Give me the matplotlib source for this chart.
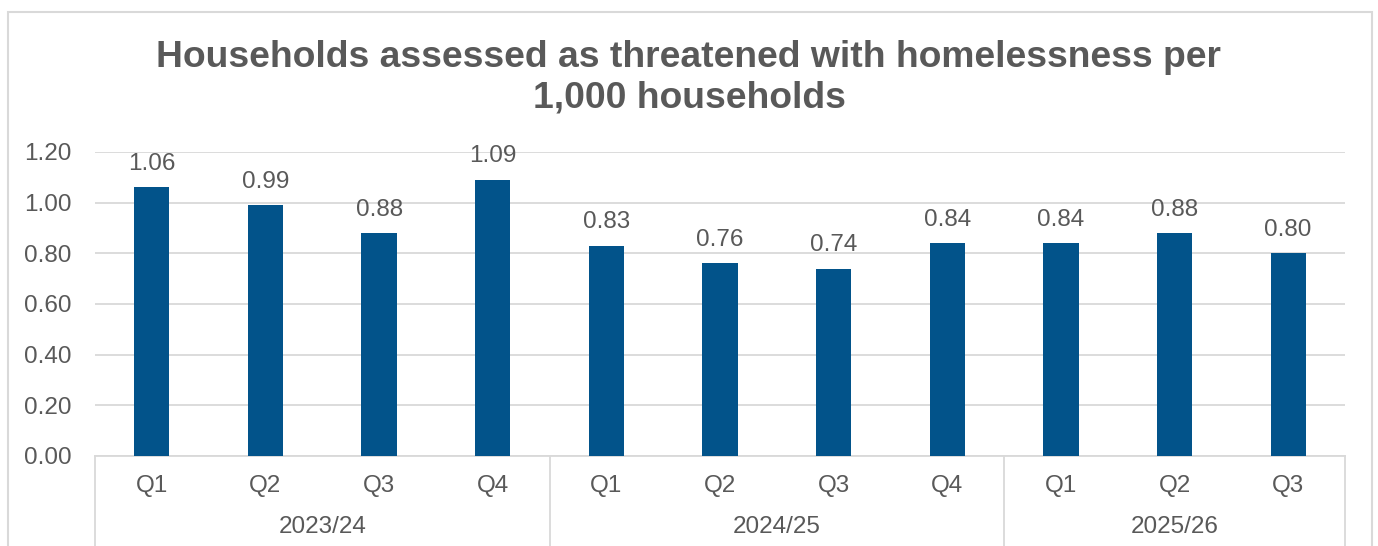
import matplotlib
matplotlib.use('Agg')
from matplotlib import pyplot as plt
from matplotlib.patches import Rectangle

plt.rcParams['font.family'] = ['Liberation Sans', 'DejaVu Sans']

# Quarterly rates per 1,000 households
years = ['2023/24', '2024/25', '2025/26']
quarters = [['Q1', 'Q2', 'Q3', 'Q4'], ['Q1', 'Q2', 'Q3', 'Q4'], ['Q1', 'Q2', 'Q3']]
values = [1.06, 0.99, 0.88, 1.09, 0.83, 0.76, 0.74, 0.84, 0.84, 0.88, 0.80]

text_col = '#595959'
grid_col = '#D9D9D9'
bar_col = '#02538A'
fs = 17.5

fig = plt.figure(figsize=(13.78, 5.46), dpi=100)
# outer chart frame
fig.patches.append(Rectangle((8 / 1378, -0.05), 1364 / 1378, 1.05 - 12 / 546,
                             transform=fig.transFigure, fill=False,
                             edgecolor=grid_col, linewidth=1.5))

ax = fig.add_axes([95 / 1378, 90 / 546, 1250 / 1378, 304 / 546])
x = list(range(len(values)))
ax.bar(x, values, width=0.31, color=bar_col, zorder=3)
for xi, v in zip(x, values):
    ax.annotate(f'{v:.2f}', (xi, v), xytext=(0, 9), textcoords='offset points',
                ha='center', va='bottom', fontsize=fs, color=text_col)

ax.set_xlim(-0.5, len(values) - 0.5)
ax.set_ylim(0, 1.2)
ax.set_yticks([0, 0.2, 0.4, 0.6, 0.8, 1.0, 1.2])
ax.set_yticklabels([f'{t:.2f}' for t in ax.get_yticks()])
ax.tick_params(axis='y', length=0, labelsize=fs, labelcolor=text_col, pad=17)
ax.grid(axis='y', color=grid_col, linewidth=1.3, zorder=0)
for s in ['top', 'right', 'left']:
    ax.spines[s].set_visible(False)
ax.spines['bottom'].set_color(grid_col)
ax.spines['bottom'].set_linewidth(1.3)
ax.set_xticks([])

# two-level category axis
tr = ax.get_xaxis_transform()
pos = 0
bounds = [-0.5]
for yr, qs in zip(years, quarters):
    for q in qs:
        ax.text(pos, -0.1, q, transform=tr, ha='center', va='center',
                fontsize=fs, color=text_col)
        pos += 1
    ax.text(pos - len(qs) / 2 - 0.5, -0.235, yr, transform=tr, ha='center',
            va='center', fontsize=fs, color=text_col)
    bounds.append(pos - 0.5)
for b in bounds:
    ax.plot([b, b], [0, -0.32], transform=tr, color=grid_col, linewidth=1.3,
            clip_on=False)

fig.text(0.5, 0.857, 'Households assessed as threatened with homelessness per\n1,000 households',
         ha='center', va='center', fontsize=26.8, fontweight='bold', color=text_col,
         linespacing=1.2)

plt.savefig('out.png', dpi=100)
